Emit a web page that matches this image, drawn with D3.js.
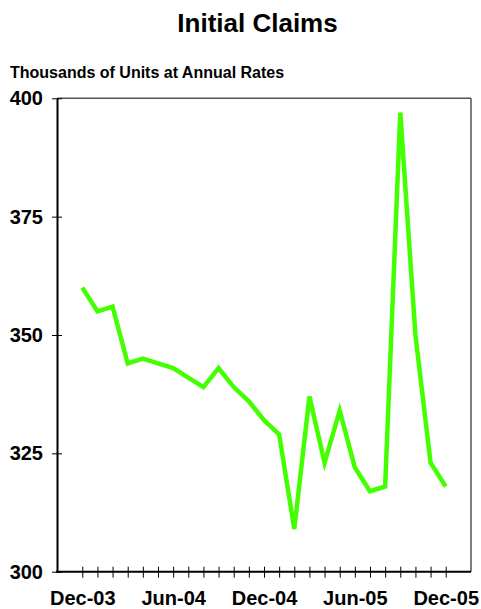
<!DOCTYPE html>
<html>
<head>
<meta charset="utf-8">
<script src="https://cdn.jsdelivr.net/npm/d3@7"></script>
<style>
  html, body { margin: 0; padding: 0; background: #fff; }
  svg { display: block; font-family: "Liberation Sans", Arial, Helvetica, sans-serif; }
</style>
</head>
<body>
<svg id="chart" width="481" height="609"></svg>
<script>
const months = ["Dec-03","Jan-04","Feb-04","Mar-04","Apr-04","May-04","Jun-04","Jul-04","Aug-04","Sep-04","Oct-04","Nov-04",
  "Dec-04","Jan-05","Feb-05","Mar-05","Apr-05","May-05","Jun-05","Jul-05","Aug-05","Sep-05","Oct-05","Nov-05","Dec-05"];
const claims = [360,355,356,344,345,344,343,341,339,343,339,336,332,329,309,337,323,334,322,317,318,397,350,323,318];
const xLabels = ["Dec-03","Jun-04","Dec-04","Jun-05","Dec-05"];
const yTicks = [300,325,350,375,400];
const title = "Initial Claims";
const subtitle = "Thousands of Units at Annual Rates";

const svg = d3.select("#chart");
const L = 57, R = 471, T = 98.3, B = 571.7;

const x = d3.scalePoint().domain(months).range([L, R]).padding(1.67);
const y = d3.scaleLinear().domain([300, 400]).range([B, T]);

svg.append("text").attr("x", 257.5).attr("y", 32).attr("text-anchor", "middle")
  .attr("font-size", 26).attr("font-weight", "bold").attr("fill", "#000").text(title);
svg.append("text").attr("x", 10).attr("y", 78)
  .attr("font-size", 16).attr("font-weight", "bold").attr("fill", "#000").text(subtitle);

// frame top/right
svg.append("line").attr("x1", L).attr("x2", R).attr("y1", T).attr("y2", T).attr("stroke", "#555").attr("stroke-width", 1.5);
svg.append("line").attr("x1", R).attr("x2", R).attr("y1", T).attr("y2", B).attr("stroke", "#555").attr("stroke-width", 1.5);

// y axis
const yAxis = svg.append("g").attr("transform", `translate(${L},0)`)
  .call(d3.axisLeft(y).tickValues(yTicks).tickFormat(d3.format("d")).tickSizeOuter(0));
yAxis.select(".domain").attr("stroke", "#000").attr("stroke-width", 2);
yAxis.selectAll(".tick line").attr("x1", -5).attr("x2", 5).attr("stroke", "#000").attr("stroke-width", 1);
yAxis.selectAll(".tick text").attr("x", -14).attr("font-size", 20).attr("font-weight", "bold")
  .attr("font-family", "Liberation Sans, Arial, sans-serif").attr("fill", "#000");

// x axis
const xAxis = svg.append("g").attr("transform", `translate(0,${B})`)
  .call(d3.axisBottom(x).tickValues(months).tickFormat(d => xLabels.includes(d) ? d : "").tickSizeOuter(0));
xAxis.select(".domain").attr("stroke", "#000").attr("stroke-width", 2).attr("d", `M${L - 1},0H${R}`);
xAxis.selectAll(".tick line").attr("y1", -5).attr("y2", 6).attr("stroke", "#000").attr("stroke-width", 1);
xAxis.selectAll(".tick text").attr("y", 19).attr("font-size", 20).attr("font-weight", "bold")
  .attr("font-family", "Liberation Sans, Arial, sans-serif").attr("fill", "#000");

// line
const line = d3.line().x((d, i) => x(months[i])).y(d => y(d));
svg.append("path").datum(claims).attr("d", line).attr("fill", "none")
  .attr("stroke", "#44ff00").attr("stroke-width", 4.5).attr("stroke-linejoin", "miter");
</script>
</body>
</html>
